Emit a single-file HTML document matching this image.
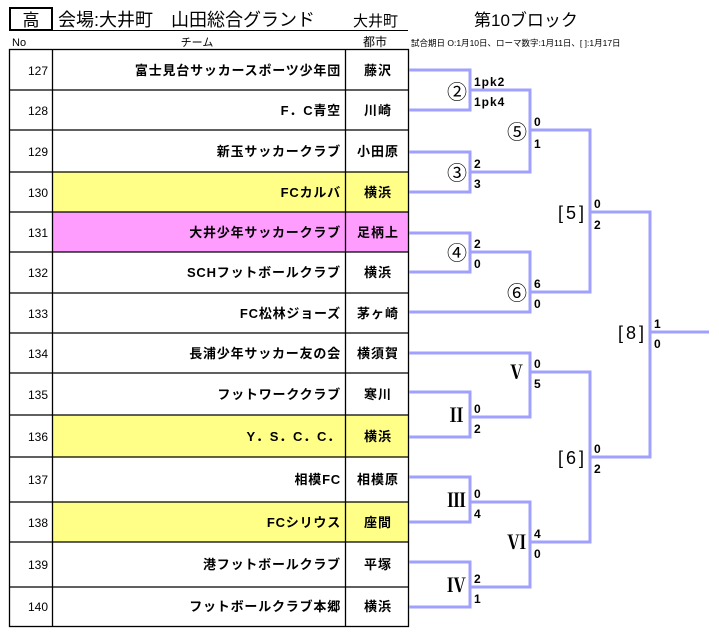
<!DOCTYPE html>
<html><head><meta charset="utf-8"><style>
body{margin:0;background:#fff}
svg{display:block}
text{font-family:"Liberation Sans","Noto Sans CJK JP",sans-serif;fill:#000}
.t{font-size:13px;font-weight:bold;text-anchor:end;letter-spacing:0.8px}
.c{font-size:13px;font-weight:bold;text-anchor:middle;letter-spacing:1px}
.n{font-size:12px;text-anchor:end}
.s{font-size:12px;font-weight:bold;letter-spacing:1px}
.m{font-size:20px;text-anchor:end;font-family:"Noto Sans CJK JP",sans-serif}
.r{font-size:19px;text-anchor:end;font-family:"Liberation Serif","Noto Serif CJK SC",serif;font-weight:bold}
.b{font-size:18px;text-anchor:end;letter-spacing:3px}
</style></head><body>
<svg width="719" height="632" xmlns="http://www.w3.org/2000/svg">
<rect x="10" y="8" width="42" height="22" fill="none" stroke="#000" stroke-width="2"/>
<text x="31" y="26" style="font-size:17px;text-anchor:middle">高</text>
<text x="58" y="26" style="font-size:18px">会場:大井町　山田総合グランド</text>
<text x="353" y="26" style="font-size:15px">大井町</text>
<line x1="52" y1="30.5" x2="408" y2="30.5" stroke="#000" stroke-width="1"/>
<text x="474" y="26" style="font-size:17px">第10ブロック</text>
<text x="12" y="46" style="font-size:11px">No</text>
<text x="197" y="46" style="font-size:11px;text-anchor:middle">チーム</text>
<text x="363" y="46" style="font-size:12px">都市</text>
<text x="411" y="46" style="font-size:8.5px">試合期日 O:1月10日、ローマ数字:1月11日、[ ]:1月17日</text>
<g stroke="#000" stroke-width="1.3" fill="none">
<rect x="53" y="172" width="356" height="40" fill="#ffff88" stroke="none"/>
<rect x="53" y="212" width="356" height="40" fill="#ff9dff" stroke="none"/>
<rect x="53" y="415" width="356" height="42" fill="#ffff88" stroke="none"/>
<rect x="53" y="502" width="356" height="40" fill="#ffff88" stroke="none"/>
<rect x="9.5" y="49.5" width="399" height="577"/>
<line x1="52.5" y1="49" x2="52.5" y2="627"/>
<line x1="345.5" y1="49" x2="345.5" y2="627"/>
<path d="M9 90H409M9 130H409M9 172H409M9 212H409M9 252H409M9 293H409M9 333H409M9 373H409M9 415H409M9 457H409M9 502H409M9 542H409M9 587H409"/>
</g>
<g>
<text class="n" x="48" y="75">127</text><text class="t" x="341" y="75">富士見台サッカースポーツ少年団</text><text class="c" x="378" y="75">藤沢</text>
<text class="n" x="48" y="115">128</text><text class="t" x="341" y="115">F．C青空</text><text class="c" x="378" y="115">川崎</text>
<text class="n" x="48" y="156">129</text><text class="t" x="341" y="156">新玉サッカークラブ</text><text class="c" x="378" y="156">小田原</text>
<text class="n" x="48" y="197">130</text><text class="t" x="341" y="197">FCカルバ</text><text class="c" x="378" y="197">横浜</text>
<text class="n" x="48" y="237">131</text><text class="t" x="341" y="237">大井少年サッカークラブ</text><text class="c" x="378" y="237">足柄上</text>
<text class="n" x="48" y="277">132</text><text class="t" x="341" y="277">SCHフットボールクラブ</text><text class="c" x="378" y="277">横浜</text>
<text class="n" x="48" y="318">133</text><text class="t" x="341" y="318">FC松林ジョーズ</text><text class="c" x="378" y="318">茅ヶ崎</text>
<text class="n" x="48" y="358">134</text><text class="t" x="341" y="358">長浦少年サッカー友の会</text><text class="c" x="378" y="358">横須賀</text>
<text class="n" x="48" y="399">135</text><text class="t" x="341" y="399">フットワーククラブ</text><text class="c" x="378" y="399">寒川</text>
<text class="n" x="48" y="441">136</text><text class="t" x="341" y="441">Y．S．C．C．</text><text class="c" x="378" y="441">横浜</text>
<text class="n" x="48" y="484">137</text><text class="t" x="341" y="484">相模FC</text><text class="c" x="378" y="484">相模原</text>
<text class="n" x="48" y="527">138</text><text class="t" x="341" y="527">FCシリウス</text><text class="c" x="378" y="527">座間</text>
<text class="n" x="48" y="569">139</text><text class="t" x="341" y="569">港フットボールクラブ</text><text class="c" x="378" y="569">平塚</text>
<text class="n" x="48" y="611">140</text><text class="t" x="341" y="611">フットボールクラブ本郷</text><text class="c" x="378" y="611">横浜</text>
</g>
<g stroke="#a0a0ff" stroke-width="3" fill="none">
<path d="M409 70H470V110H409M470 90H530V172H470M409 152H470V192H409M530 130H590V292H530M409 233H470V272H409M470 252H530V312H409M590 212H650V457H590M650 332H709"/>
<path d="M409 353H530V417H470M409 392H470V437H409M530 372H590V542H530M409 477H470V522H409M470 502H530V587H470M409 562H470V607H409"/>
</g>
<g>
<text class="m" x="467" y="99">②</text><text class="s" x="474" y="86">1pk2</text><text class="s" x="474" y="106">1pk4</text>
<text class="m" x="527" y="139">⑤</text><text class="s" x="534" y="126">0</text><text class="s" x="534" y="148">1</text>
<text class="m" x="467" y="180">③</text><text class="s" x="474" y="168">2</text><text class="s" x="474" y="188">3</text>
<text class="b" x="587" y="219">[5]</text><text class="s" x="594" y="208">0</text><text class="s" x="594" y="229">2</text>
<text class="m" x="467" y="260">④</text><text class="s" x="474" y="248">2</text><text class="s" x="474" y="268">0</text>
<text class="m" x="527" y="300">⑥</text><text class="s" x="534" y="288">6</text><text class="s" x="534" y="308">0</text>
<text class="b" x="647" y="339">[8]</text><text class="s" x="654" y="328">1</text><text class="s" x="654" y="348">0</text>
<text class="r" x="526" y="379">Ⅴ</text><text class="s" x="534" y="368">0</text><text class="s" x="534" y="388">5</text>
<text class="r" x="466" y="422">Ⅱ</text><text class="s" x="474" y="413">0</text><text class="s" x="474" y="433">2</text>
<text class="b" x="587" y="464">[6]</text><text class="s" x="594" y="453">0</text><text class="s" x="594" y="473">2</text>
<text class="r" x="466" y="507">Ⅲ</text><text class="s" x="474" y="498">0</text><text class="s" x="474" y="518">4</text>
<text class="r" x="526" y="549">Ⅵ</text><text class="s" x="534" y="538">4</text><text class="s" x="534" y="558">0</text>
<text class="r" x="466" y="592">Ⅳ</text><text class="s" x="474" y="583">2</text><text class="s" x="474" y="603">1</text>
</g>
</svg>
</body></html>
